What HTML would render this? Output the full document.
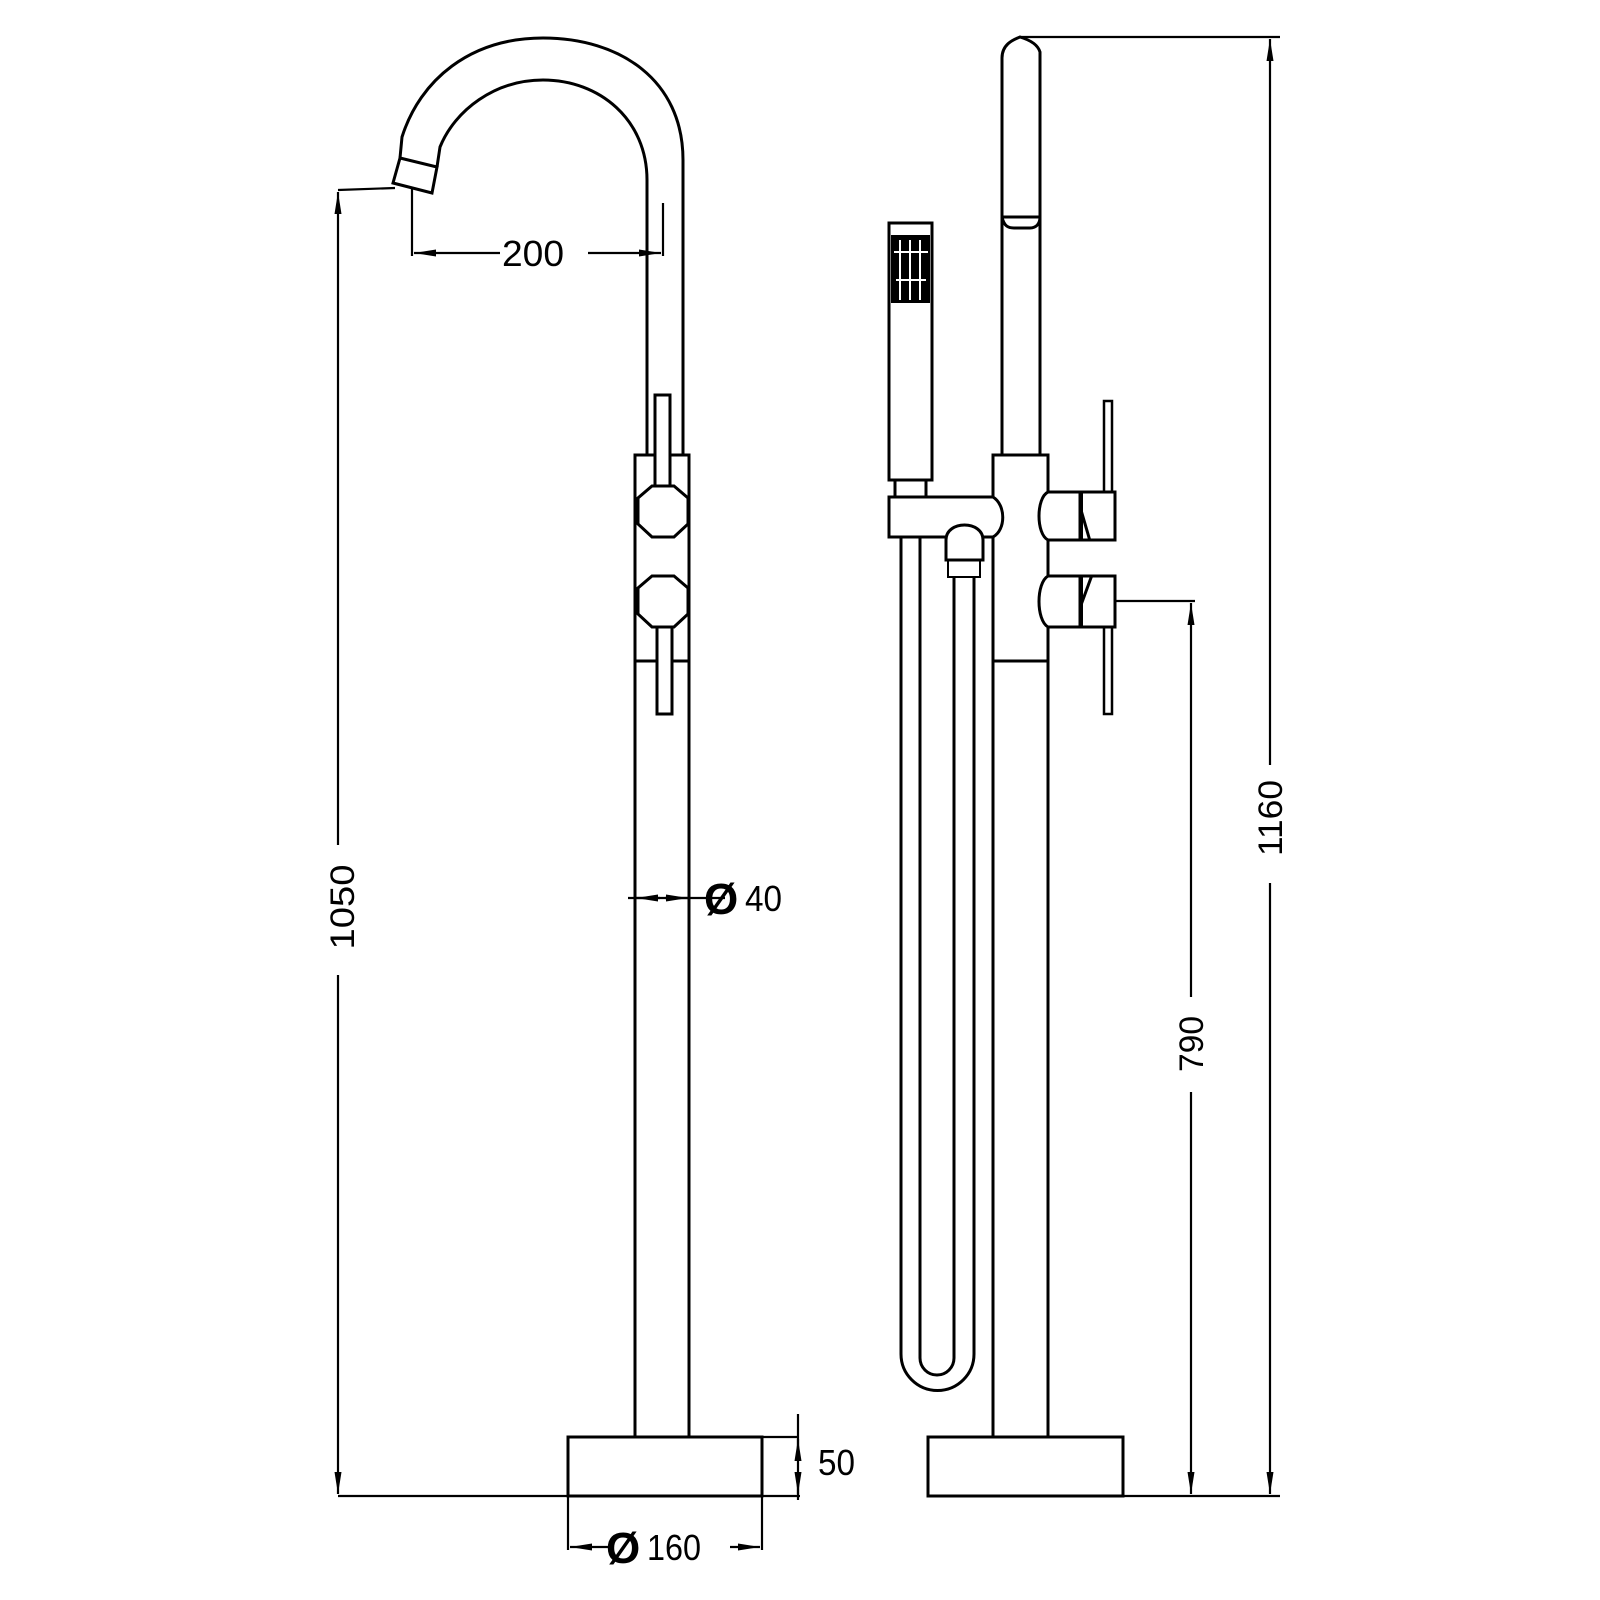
<!DOCTYPE html>
<html><head><meta charset="utf-8"><style>html,body{margin:0;padding:0;background:#fff}svg{display:block}</style></head>
<body>
<svg width="1600" height="1600" viewBox="0 0 1600 1600" xmlns="http://www.w3.org/2000/svg" font-family="Liberation Sans, sans-serif">
<defs>
<marker id="a" viewBox="0 0 22 10" refX="22" refY="5" markerWidth="22" markerHeight="10" markerUnits="userSpaceOnUse" orient="auto"><path d="M0,1.5 L22,5 L0,8.5 Z" fill="#000"/></marker>
<marker id="b" viewBox="0 0 22 10" refX="0" refY="5" markerWidth="22" markerHeight="10" markerUnits="userSpaceOnUse" orient="auto"><path d="M22,1.5 L0,5 L22,8.5 Z" fill="#000"/></marker>
</defs>
<g fill="none" stroke="#000" stroke-width="3">
<path d="M683,455 L683,160 C683,80 620,38 543,38 C470,38 420,80 402,137 L400,158"/>
<path d="M647,455 L647,180 C647,120 600,80 543,80 C495,80 455,110 440,147 L437,167"/>
<path d="M400,158 L437,167 L432,193 L393,183 Z"/>
<rect x="635" y="455" width="54" height="982"/>
<line x1="635" y1="661" x2="689" y2="661"/>
<rect x="655" y="395" width="15" height="92" fill="#fff"/>
<rect x="657" y="627" width="15" height="87" fill="#fff"/>
<path d="M652,486 L674,486 L688,498 L688,524 L674,537 L652,537 L638,524 L638,498 Z" fill="#fff"/>
<path d="M652,576 L674,576 L688,588 L688,614 L674,627 L652,627 L638,614 L638,588 Z" fill="#fff"/>
<rect x="568" y="1437" width="194" height="59"/>
</g>
<g fill="none" stroke="#000" stroke-width="2.2">
<line x1="338" y1="190" x2="395" y2="188"/>
<line x1="338" y1="845" x2="338" y2="192" marker-end="url(#a)"/>
<line x1="338" y1="975" x2="338" y2="1494" marker-end="url(#a)"/>
<line x1="338" y1="1496" x2="800" y2="1496"/>
<line x1="412" y1="188" x2="412" y2="256"/>
<line x1="663" y1="203" x2="663" y2="256"/>
<line x1="500" y1="253" x2="414" y2="253" marker-end="url(#a)"/>
<line x1="588" y1="253" x2="661" y2="253" marker-end="url(#a)"/>
<line x1="628" y1="898" x2="725" y2="898"/>
<line x1="636" y1="898" x2="660" y2="898" marker-start="url(#b)"/>
<line x1="665" y1="898" x2="688" y2="898" marker-end="url(#a)"/>
<line x1="762" y1="1437" x2="798" y2="1437"/>
<line x1="798" y1="1414" x2="798" y2="1500"/>
<line x1="798" y1="1460" x2="798" y2="1439" marker-end="url(#a)"/>
<line x1="798" y1="1474" x2="798" y2="1494" marker-end="url(#a)"/>
<line x1="568" y1="1496" x2="568" y2="1550"/>
<line x1="762" y1="1496" x2="762" y2="1550"/>
<line x1="610" y1="1547" x2="570" y2="1547" marker-end="url(#a)"/>
<line x1="730" y1="1547" x2="760" y2="1547" marker-end="url(#a)"/>
</g>
<g fill="none" stroke="#000" stroke-width="3">
<path d="M1002,455 L1002,58 C1002,45 1012,40 1020,37 C1030,40 1038,45 1040,52 L1040,455"/>
<path d="M1002,217 L1040,217 M1002,217 C1004,226 1008,228 1014,228 L1030,228 C1036,228 1040,224 1040,217"/>
<rect x="993" y="455" width="55" height="982"/>
<line x1="993" y1="661" x2="1048" y2="661"/>
<rect x="928" y="1437" width="195" height="59"/>
<rect x="1104" y="401" width="8" height="91" stroke-width="2.5"/>
<path d="M1048,492 L1080,492 L1080,540 L1048,540 C1036,534 1036,498 1048,492 Z" fill="#fff"/>
<rect x="1080" y="492" width="35" height="48" fill="#fff"/>
<line x1="1081" y1="492" x2="1081" y2="540" stroke-width="4"/>
<line x1="1081" y1="510" x2="1090" y2="541"/>
<rect x="1104" y="627" width="8" height="87" stroke-width="2.5"/>
<path d="M1048,576 L1080,576 L1080,627 L1048,627 C1036,620 1036,583 1048,576 Z" fill="#fff"/>
<rect x="1080" y="576" width="35" height="51" fill="#fff"/>
<line x1="1081" y1="576" x2="1081" y2="627" stroke-width="4"/>
<line x1="1081" y1="605" x2="1092" y2="575"/>
<rect x="889" y="223" width="43" height="257"/>
<rect x="891" y="235" width="39" height="68" fill="#000" stroke="none"/>
<g stroke="#fff" stroke-width="2"><line x1="900" y1="240" x2="900" y2="300"/><line x1="910" y1="240" x2="910" y2="300"/><line x1="920" y1="240" x2="920" y2="300"/><line x1="894" y1="252" x2="928" y2="252"/><line x1="896" y1="280" x2="926" y2="280"/></g>
<path d="M895,480 L895,497 M926,480 L926,497 M895,497 C900,501 920,501 926,497"/>
<path d="M889,497 L993,497 C1006,505 1006,530 993,537 L889,537 Z" fill="#fff"/>
<path d="M946,560 L946,540 C946,520 983,520 983,540 L983,560 Z" fill="#fff"/>
<rect x="948" y="560" width="32" height="17" stroke-width="2"/>
<path d="M901,537 L901,1354 A36.5,36.5 0 0 0 974,1354 L974,577"/>
<path d="M920,537 L920,1358 A17,17 0 0 0 954,1358 L954,577"/>
</g>
<g fill="none" stroke="#000" stroke-width="2.2">
<line x1="1020" y1="37" x2="1280" y2="37"/>
<line x1="1270" y1="765" x2="1270" y2="39" marker-end="url(#a)"/>
<line x1="1270" y1="883" x2="1270" y2="1494" marker-end="url(#a)"/>
<line x1="1115" y1="601" x2="1195" y2="601"/>
<line x1="1191" y1="997" x2="1191" y2="603" marker-end="url(#a)"/>
<line x1="1191" y1="1092" x2="1191" y2="1494" marker-end="url(#a)"/>
<line x1="1123" y1="1496" x2="1280" y2="1496"/>
</g>
<g fill="#000" font-size="36">
<text x="533" y="266" text-anchor="middle" textLength="62" lengthAdjust="spacingAndGlyphs">200</text>
<text x="745" y="911" textLength="37" lengthAdjust="spacingAndGlyphs">40</text>
<text x="704" y="914" font-size="44" font-weight="bold">Ø</text>
<text x="818" y="1475" textLength="37" lengthAdjust="spacingAndGlyphs">50</text>
<text x="647" y="1560" textLength="54" lengthAdjust="spacingAndGlyphs">160</text>
<text x="606" y="1563" font-size="44" font-weight="bold">Ø</text>
<text transform="translate(354,907) rotate(-90)" text-anchor="middle" font-size="34" textLength="85" lengthAdjust="spacingAndGlyphs">1050</text>
<text transform="translate(1282,818) rotate(-90)" text-anchor="middle" font-size="34" textLength="76" lengthAdjust="spacingAndGlyphs">1160</text>
<text transform="translate(1203,1044) rotate(-90)" text-anchor="middle" font-size="34" textLength="56" lengthAdjust="spacingAndGlyphs">790</text>
</g>
</svg>
</body></html>
